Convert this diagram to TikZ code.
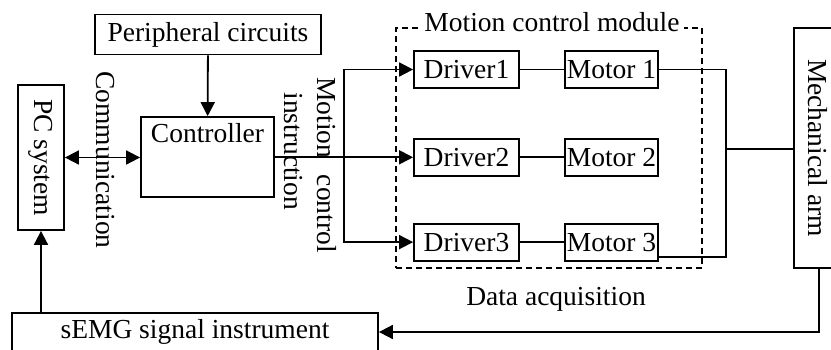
\documentclass[tikz,border=0pt]{standalone}
\usepackage{fontspec}
\setmainfont{Liberation Serif}
\usetikzlibrary{positioning, arrows.meta}

\tikzstyle{block} = [rectangle,
draw=black,
line width=0.9pt,
inner sep=1pt]
\tikzstyle{driver} = [block,
minimum width=52.5pt,
minimum height=18.5pt]
\tikzstyle{motor} = [block,
minimum width=46.5pt,
minimum height=18.5pt]
\tikzstyle{module} = [rectangle,
draw=black,
line width=0.9pt,
dash pattern=on 3pt off 2pt,
minimum width=153pt,
minimum height=120pt]
\tikzstyle{caption} = [align=left, inner sep=2pt]

\begin{document}
\begin{tikzpicture}[x=0.5pt, y=-0.5pt, line width=0.9pt,
    font=\fontsize{13.75}{16.5}\selectfont,
    >={Triangle[length=7pt, width=7pt]}
    ]
    \useasboundingbox (0,0) rectangle (831,349);

    % dashed frame of the motion control module
    \node (module) [module] at (549,148) {};
    \node (modtitle) [caption, fill=white] at (552,22) {Motion control module};

    \node (periph) [block, minimum width=113pt, minimum height=20pt] at (208,34.5) {Peripheral circuits};
    \node (ctrl) [block, minimum width=66.5pt, minimum height=40pt,
        label={[anchor=north]north:Controller}] at (207.5,157) {};
    \node (pc) [block, minimum width=23pt, minimum height=72.5pt] at (41,157.5) {\rotatebox{-90}{PC system}};
    \node (comm) [caption, rotate=-90] at (105,160) {Communication};
    \node (mctrl) [caption, rotate=-90] at (310,165) {Motion\hspace{0.6em}control\\\hspace{0.55em}instruction};

    \node (drv1) [driver] at (466.5,69.5) {Driver1};
    \node (drv2) [driver, below=24.5pt of drv1] {Driver2};
    \node (drv3) [driver, below=23pt of drv2] {Driver3};
    \node (mot1) [motor, right=22pt of drv1] {Motor 1};
    \node (mot2) [motor, right=22pt of drv2] {Motor 2};
    \node (mot3) [motor, right=22pt of drv3] {Motor 3};

    \node (arm) [block, minimum width=24pt, minimum height=120pt] at (818,148) {\rotatebox{-90}{Mechanical arm}};
    \node (semg) [block, anchor=north, minimum width=183pt, inner ysep=3pt,
        text height=10pt, text depth=14pt] at (195,312) {sEMG signal instrument};
    \node (data) [caption] at (556,299) {Data acquisition};

    % controller side
    \draw[->] (periph) -- (ctrl);
    \draw[<->] (pc.east) -- (pc.east -| ctrl.west);

    % motion control instruction to the drivers
    \coordinate (split) at (344,157);
    \draw (ctrl.east) -- (split);
    \draw[->] (split) |- (drv1);
    \draw[->] (split) |- (drv2);
    \draw[->] (split) |- (drv3);

    \foreach \i in {1,2,3}
        \draw (drv\i) -- (mot\i);

    % motors to the arm
    \coordinate (merge) at (726,149);
    \draw (mot1) -| (merge);
    \draw ([yshift=-7.5pt]mot3.east) -| (merge);
    \draw (merge) -- (merge -| arm.west);

    % data acquisition back to the PC
    \coordinate (back) at (819,332);
    \draw[->] (arm.south -| back) -- (back) -- (back -| semg.east);
    \draw[->] (semg.north -| pc) -- (pc.south);

\end{tikzpicture}
\end{document}
